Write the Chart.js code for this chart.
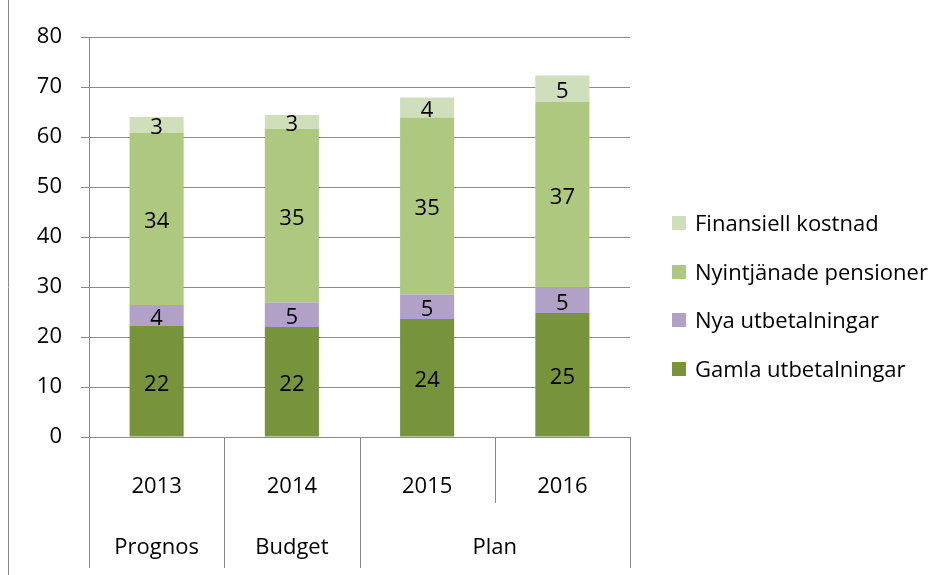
<!DOCTYPE html>
<html>
<head>
<meta charset="utf-8">
<script src="https://cdn.jsdelivr.net/npm/chart.js@4.4.1/dist/chart.umd.min.js"></script>
<style>
  body { margin: 0; background: #fff; }
</style>
</head>
<body>
<canvas id="chart" width="952" height="575"></canvas>
<script>
// data
const years = ['2013', '2014', '2015', '2016'];
const groupLabels = ['Prognos', 'Budget', 'Plan'];
const groupSpans = [1, 1, 2];
const seriesNames = ['Gamla utbetalningar', 'Nya utbetalningar', 'Nyintjänade pensioner', 'Finansiell kostnad'];
const gamla = [22.2, 22.0, 23.6, 24.8];
const nya = [4.2, 4.9, 4.9, 5.1];
const nyintjanade = [34.4, 34.7, 35.4, 37.1];
const finansiell = [3.2, 2.8, 4.0, 5.3];
const yMin = 0, yMax = 80, yStep = 10;

const colors = ['#77933c', '#b2a1c7', '#afc87f', '#d0dfbb'];
const gridColor = '#8a8a8a';
const fontFamily = 'Open Sans';

Chart.defaults.font.family = fontFamily;
Chart.defaults.color = '#000';

// numbers in the middle of each segment
const segmentLabels = {
    id: 'segmentLabels',
    afterDatasetsDraw(chart) {
        const ctx = chart.ctx;
        ctx.save();
        ctx.font = `22px ${fontFamily}`;
        ctx.fillStyle = '#000';
        ctx.textAlign = 'center';
        ctx.textBaseline = 'middle';
        chart.data.datasets.forEach((ds, i) => {
            chart.getDatasetMeta(i).data.forEach((bar, j) => {
                ctx.fillText(Math.round(ds.data[j]), bar.x, (bar.y + bar.base) / 2 + 3);
            });
        });
        ctx.restore();
    }
};

// second row of category labels, dividers, frame line
const axisGroups = {
    id: 'axisGroups',
    afterDraw(chart) {
        const ctx = chart.ctx;
        const x = chart.scales.x;
        const top = chart.chartArea.bottom;
        const edges = [x.left];
        for (let i = 1; i < years.length; i++) {
            edges.push((x.getPixelForValue(i - 1) + x.getPixelForValue(i)) / 2);
        }
        edges.push(x.right);

        const groupStarts = [0];
        groupSpans.forEach(s => groupStarts.push(groupStarts[groupStarts.length - 1] + s));

        ctx.save();
        ctx.strokeStyle = gridColor;
        ctx.lineWidth = 1;
        edges.forEach((ex, i) => {
            const long = groupStarts.includes(i);
            ctx.beginPath();
            ctx.moveTo(Math.round(ex) + 0.5, top);
            ctx.lineTo(Math.round(ex) + 0.5, long ? top + 131 : top + 66);
            ctx.stroke();
        });
        // left frame line
        ctx.beginPath();
        ctx.moveTo(8.5, 0);
        ctx.lineTo(8.5, chart.height);
        ctx.stroke();

        ctx.font = `22px ${fontFamily}`;
        ctx.fillStyle = '#000';
        ctx.textAlign = 'center';
        ctx.textBaseline = 'middle';
        groupLabels.forEach((lab, g) => {
            const cx = (edges[groupStarts[g]] + edges[groupStarts[g + 1]]) / 2;
            ctx.fillText(lab, cx, top + 111);
        });
        ctx.restore();
    }
};

// legend on the right, last series on top
const sideLegend = {
    id: 'sideLegend',
    afterDraw(chart) {
        const ctx = chart.ctx;
        const boxX = 672, textX = 695, firstY = 223, rowGap = 48.5, box = 14;
        ctx.save();
        ctx.font = `22px ${fontFamily}`;
        ctx.textAlign = 'left';
        ctx.textBaseline = 'middle';
        const ds = chart.data.datasets.slice().reverse();
        ds.forEach((d, i) => {
            const y = firstY + i * rowGap;
            ctx.fillStyle = d.backgroundColor;
            ctx.fillRect(boxX, Math.round(y - box / 2), box, box);
            ctx.fillStyle = '#000';
            ctx.fillText(d.label, textX, y + 2);
        });
        ctx.restore();
    }
};

new Chart(document.getElementById('chart'), {
    type: 'bar',
    data: {
        labels: years,
        datasets: [
            { label: seriesNames[0], data: gamla, backgroundColor: colors[0] },
            { label: seriesNames[1], data: nya, backgroundColor: colors[1] },
            { label: seriesNames[2], data: nyintjanade, backgroundColor: colors[2] },
            { label: seriesNames[3], data: finansiell, backgroundColor: colors[3] }
        ]
    },
    options: {
        responsive: false,
        animation: false,
        events: [],
        layout: { padding: { left: 0, top: 37, right: 322, bottom: 0 } },
        datasets: { bar: { categoryPercentage: 1, barPercentage: 0.4 } },
        plugins: {
            legend: { display: false },
            tooltip: { enabled: false }
        },
        scales: {
            x: {
                stacked: true,
                grid: { display: false },
                border: { display: true, color: gridColor, width: 1 },
                ticks: { font: { size: 22 }, padding: 29, maxRotation: 0 },
                afterFit: (s) => { s.height = 138; }
            },
            y: {
                stacked: true,
                min: yMin,
                max: yMax,
                ticks: { stepSize: yStep, font: { size: 22 }, padding: 19 },
                grid: { color: gridColor, lineWidth: 1, tickLength: 8 },
                border: { display: true, color: gridColor, width: 1 },
                afterFit: (s) => { s.width = 89; }
            }
        }
    },
    plugins: [segmentLabels, axisGroups, sideLegend]
});
</script>
</body>
</html>
